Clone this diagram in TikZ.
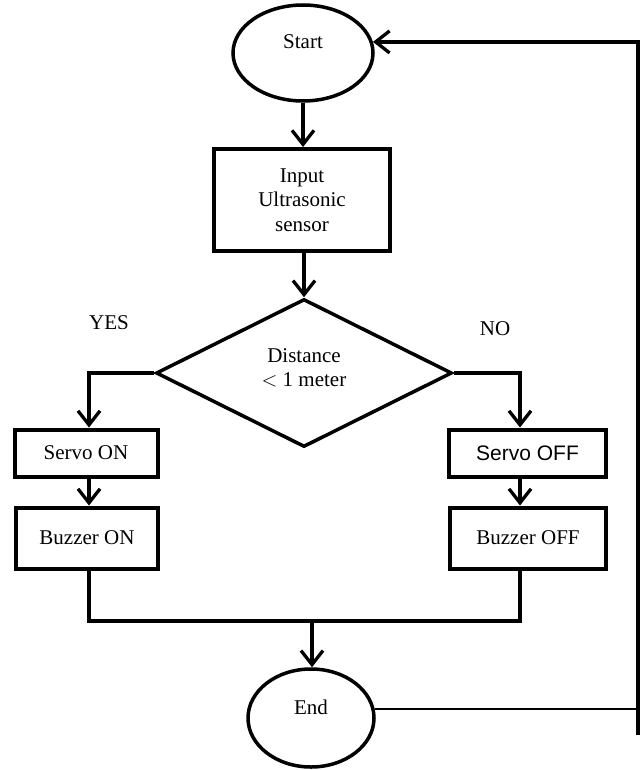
\documentclass[tikz,border=0pt]{standalone}
\usepackage{fontspec}
\setmainfont{Liberation Serif}
\newfontfamily\arialf{Liberation Sans}
\usetikzlibrary{shapes.geometric,arrows.meta}
\begin{document}
\begin{tikzpicture}[x=1pt,y=-1pt,
  every node/.style={font=\fontsize{21}{24.5}\selectfont},
  procbox/.style={draw,line width=4pt,rectangle,inner sep=0pt,align=center},
  term/.style={draw,line width=3.5pt,ellipse,inner sep=0pt},
  decis/.style={draw,line width=3.5pt,diamond,inner sep=0pt,align=center},
  conn/.style={line width=3.3pt},
  thinconn/.style={line width=2.4pt},
  arr/.style={conn,-{Straight Barb[length=14pt,width=22pt,line width=3.3pt]}}]
\useasboundingbox (0,0) rectangle (643,770);

% nodes
\node[term,minimum width=140pt,minimum height=96pt] (start) at (303,53) {};
\node (startlbl) at (303,42) {Start};
\node[procbox,minimum width=176pt,minimum height=102pt] (input) at (302,200) {Input\\Ultrasonic\\sensor};
\node[decis,minimum width=296pt,minimum height=148pt] (dec) at (304,373) {};
\node[align=center] (declbl) at (304,368) {Distance\\$<$ 1 meter};
\node (yes) at (109,323) {YES};
\node (no) at (495,329) {NO};
\node[procbox,minimum width=143pt,minimum height=47pt] (servoon) at (86,453) {Servo ON};
\node[procbox,minimum width=142pt,minimum height=61pt] (buzzeron) at (87,538) {Buzzer ON};
\node[procbox,minimum width=157pt,minimum height=47pt,font=\arialf\fontsize{21}{24.5}\selectfont] (servooff) at (527.5,453) {Servo OFF};
\node[procbox,minimum width=156pt,minimum height=61pt] (buzzeroff) at (528,538) {Buzzer OFF};
\node[term,minimum width=126pt,minimum height=98pt] (end) at (311,718) {};
\node (endlbl) at (311,707) {End};

% helper coordinates
\coordinate (lcol) at (89,0);
\coordinate (rcol) at (520,0);
\coordinate (merge) at (312,621);
\coordinate (loopbot) at (638,735);

% connectors
\draw[arr] (start.south) -- (start.south |- input.north);
\draw[arr] (input.south -| dec.north) -- (dec.north);
\draw[arr] (dec.west) -- (dec.west -| lcol) -- (lcol |- servoon.north);
\draw[arr] (dec.east) -- (dec.east -| rcol) -- (rcol |- servooff.north);
\draw[arr] (lcol |- servoon.south) -- (lcol |- buzzeron.north);
\draw[arr] (rcol |- servooff.south) -- (rcol |- buzzeroff.north);
\draw[conn] (lcol |- buzzeron.south) -- (lcol |- merge) -- (rcol |- merge) -- (rcol |- buzzeroff.south);
\draw[arr] (merge) -- (merge |- end.north);
\draw[thinconn] (end.8) -- (end.8 -| loopbot);
\draw[arr] (loopbot) -- (loopbot |- start.9) -- (start.9);
\end{tikzpicture}
\end{document}
